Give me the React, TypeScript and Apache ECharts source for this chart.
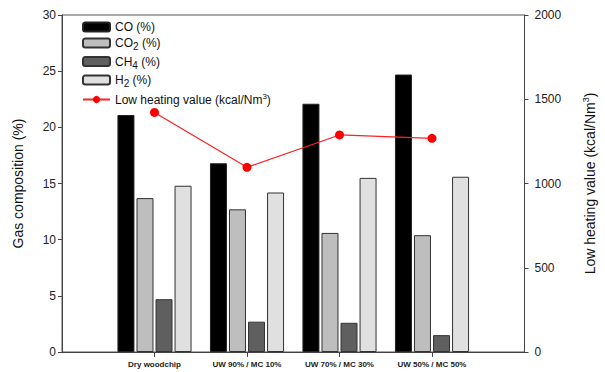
import React, { useEffect, useRef } from "react";
import * as echarts from "echarts";

const categories = ["Dry woodchip", "UW 90% / MC 10%", "UW 70% / MC 30%", "UW 50% / MC 50%"];
const coValues = [21.1, 16.8, 22.1, 24.7];
const co2Values = [13.7, 12.7, 10.6, 10.4];
const ch4Values = [4.7, 2.7, 2.6, 1.5];
const h2Values = [14.8, 14.2, 15.5, 15.6];
const lhvValues = [1422, 1096, 1288, 1268];
const leftTicks = { min: 0, max: 30, interval: 5 };
const rightTicks = { min: 0, max: 2000, interval: 500 };

const FONT = "'Liberation Sans', Arial, sans-serif";

const pad = (arr: number[]) => ["-", ...arr, "-"] as any[];

export default function App() {
  const ref = useRef<HTMLDivElement>(null);
  useEffect(() => {
    if (!ref.current) return;
    const chart = echarts.init(ref.current, undefined, { renderer: "svg" });
    const xCats = ["", ...categories, ""];
    const barBase = {
      type: "bar",
      barWidth: 17,
      barGap: "12%",
      yAxisIndex: 0,
    };
    const legendNames: Record<string, string> = {
      CO: "CO (%)",
      CO2: "CO{sub|2} (%)",
      CH4: "CH{sub|4} (%)",
      H2: "H{sub|2} (%)",
      LHV: "Low heating value (kcal/Nm{sup|3})",
    };
    chart.setOption({
      animation: false,
      textStyle: { fontFamily: FONT },
      grid: {
        left: 62,
        right: 75,
        top: 15,
        bottom: 20,
        show: true,
        borderColor: "#555",
        borderWidth: 1,
        containLabel: false,
      },
      legend: {
        orient: "vertical",
        left: 77,
        top: 16,
        itemWidth: 27,
        itemHeight: 9,
        itemGap: 4,
        data: ["CO", "CO2", "CH4", "H2", "LHV"],
        formatter: (name: string) => legendNames[name],
        textStyle: {
          fontFamily: FONT,
          fontSize: 12,
          color: "#111",
          rich: {
            sub: { fontSize: 10, verticalAlign: "bottom", padding: [7, 0, 0, 0], fontFamily: FONT, color: "#111" },
            sup: { fontSize: 8, verticalAlign: "top", padding: [0, 0, 6, 0], fontFamily: FONT, color: "#111" },
          },
        },
      },
      xAxis: {
        type: "category",
        data: xCats,
        boundaryGap: false,
        axisLine: { lineStyle: { color: "#444", width: 1 } },
        axisTick: {
          show: true,
          interval: (i: number) => i > 0 && i < xCats.length - 1,
          length: 5,
          lineStyle: { color: "#444" },
        },
        axisLabel: {
          fontFamily: FONT,
          fontSize: 8,
          fontWeight: "bold",
          color: "#222",
          margin: 8,
          interval: 0,
        },
        splitLine: { show: false },
      },
      yAxis: [
        {
          type: "value",
          ...leftTicks,
          position: "left",
          name: "Gas composition (%)",
          nameLocation: "middle",
          nameGap: 37,
          nameTextStyle: { fontFamily: FONT, fontSize: 14, color: "#111" },
          axisLine: { show: true, lineStyle: { color: "#444" } },
          axisTick: { show: true, length: 4, lineStyle: { color: "#444" } },
          axisLabel: { fontFamily: FONT, fontSize: 12, color: "#222", margin: 6 },
          splitLine: { show: false },
        },
        {
          type: "value",
          ...rightTicks,
          position: "right",
          name: "Low heating value (kcal/Nm{sup|3})",
          nameLocation: "middle",
          nameRotate: 90,
          nameGap: 57,
          nameTextStyle: {
            fontFamily: FONT,
            fontSize: 14,
            color: "#111",
            rich: {
              sup: { fontSize: 9, verticalAlign: "top", padding: [0, 0, 8, 0], fontFamily: FONT, color: "#111" },
            },
          },
          axisLine: { show: true, lineStyle: { color: "#444" } },
          axisTick: { show: true, length: 4, lineStyle: { color: "#444" } },
          axisLabel: {
            fontFamily: FONT,
            fontSize: 12,
            color: "#222",
            margin: 10,
            formatter: (v: number) => String(v),
          },
          splitLine: { show: false },
        },
      ],
      series: [
        { ...barBase, name: "CO", data: pad(coValues), itemStyle: { color: "#000000", borderColor: "#222", borderWidth: 1 } },
        { ...barBase, name: "CO2", data: pad(co2Values), itemStyle: { color: "#bebebe", borderColor: "#333", borderWidth: 1 } },
        { ...barBase, name: "CH4", data: pad(ch4Values), itemStyle: { color: "#5f5f5f", borderColor: "#333", borderWidth: 1 } },
        { ...barBase, name: "H2", data: pad(h2Values), itemStyle: { color: "#e0e0e0", borderColor: "#333", borderWidth: 1 } },
        {
          type: "line",
          name: "LHV",
          yAxisIndex: 1,
          data: pad(lhvValues),
          symbol: "circle",
          symbolSize: 9,
          lineStyle: { color: "#ff2020", width: 1.2 },
          itemStyle: { color: "#ff0000" },
          connectNulls: false,
          z: 5,
        },
      ],
    });
    return () => chart.dispose();
  }, []);
  return <div ref={ref} style={{ width: 605, height: 372, position: "absolute", left: 0, top: 0, background: "#fff" }} />;
}
